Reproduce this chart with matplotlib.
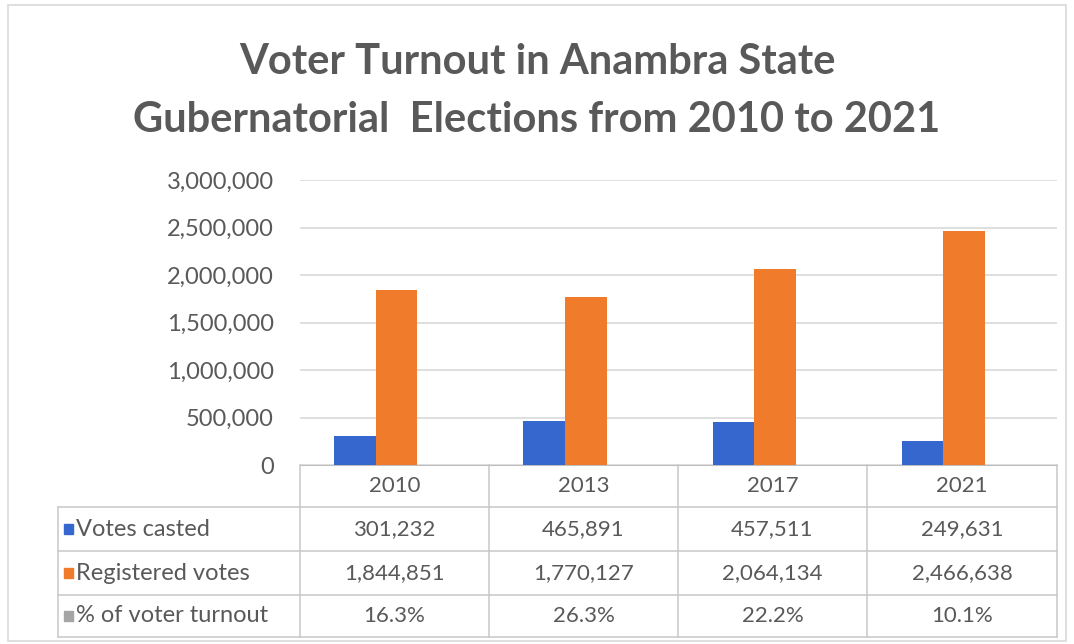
import numpy as np
import matplotlib.pyplot as plt
from matplotlib.patches import Rectangle
from matplotlib.lines import Line2D

years = ['2010', '2013', '2017', '2021']
votes_casted = [301232, 465891, 457511, 249631]
registered = [1844851, 1770127, 2064134, 2466638]
turnout = ['16.3%', '26.3%', '22.2%', '10.1%']
row_names = ['Votes casted', 'Registered votes', '% of voter turnout']
row_colors = ['#3567CF', '#F07B2A', '#A5A5A5']
yticks = [0, 500000, 1000000, 1500000, 2000000, 2500000, 3000000]

W, H = 1074, 644
txt = '#595959'
plt.rcParams['font.family'] = ['Lato', 'DejaVu Sans']

fig = plt.figure(figsize=(W / 100, H / 100), dpi=100)


def fx(px):
    return px / W


def fy(py):
    return 1 - py / H


# outer frame
fig.add_artist(Rectangle((fx(8), fy(641)), fx(1058), 636 / H, transform=fig.transFigure,
                         fill=False, edgecolor='#D9D9D9', lw=1.2))

fig.text(0.5, fy(62), 'Voter Turnout in Anambra State', ha='center', va='center',
         fontsize=30, fontweight='bold', color=txt)
fig.text(0.5, fy(120), 'Gubernatorial  Elections from 2010 to 2021', ha='center', va='center',
         fontsize=30, fontweight='bold', color=txt)

ax = fig.add_axes([fx(300), fy(465), fx(1057 - 300), (465 - 180) / H])
x = np.arange(len(years))
bw = 0.22
off = -0.1
ax.bar(x + off - bw / 2, votes_casted, bw, color=row_colors[0], zorder=3)
ax.bar(x + off + bw / 2, registered, bw, color=row_colors[1], zorder=3)
ax.set_xlim(-0.5, len(years) - 0.5)
ax.set_ylim(0, 3000000)
ax.set_yticks(yticks)
ax.set_yticklabels([f'{v:,}' for v in yticks])
ax.tick_params(axis='y', length=0, pad=19, labelsize=17, labelcolor=txt)
ax.set_xticks([])
ax.grid(axis='y', color='#D9D9D9', lw=1.2, zorder=0)
for s in ['top', 'right', 'left']:
    ax.spines[s].set_visible(False)
ax.spines['bottom'].set_color('#BFBFBF')

# data table
col_edges = [300, 489, 678, 867, 1057]
row_edges = [465, 507, 551, 595, 637]
lc = '#C8C8C8'


def hline(x0, x1, y):
    fig.add_artist(Line2D([fx(x0), fx(x1)], [fy(y), fy(y)], color=lc, lw=1.1))


def vline(x, y0, y1):
    fig.add_artist(Line2D([fx(x), fx(x)], [fy(y0), fy(y1)], color=lc, lw=1.1))


for r in row_edges[1:]:
    hline(58, 1057, r)
vline(58, row_edges[1], row_edges[4])
for c in col_edges:
    vline(c, row_edges[0], row_edges[4])

cells = [[f'{v:,}' for v in votes_casted], [f'{v:,}' for v in registered], turnout]
for j, yr in enumerate(years):
    cx = (col_edges[j] + col_edges[j + 1]) / 2
    fig.text(fx(cx), fy((row_edges[0] + row_edges[1]) / 2), yr, ha='center', va='center',
             fontsize=16, color=txt)
    for i in range(3):
        cy = (row_edges[i + 1] + row_edges[i + 2]) / 2
        fig.text(fx(cx), fy(cy), cells[i][j], ha='center', va='center', fontsize=16, color=txt)

for i, name in enumerate(row_names):
    cy = (row_edges[i + 1] + row_edges[i + 2]) / 2
    fig.add_artist(Rectangle((fx(64), fy(cy + 5)), fx(9), 10 / H, transform=fig.transFigure,
                             color=row_colors[i]))
    fig.text(fx(76), fy(cy), name, ha='left', va='center', fontsize=17, color=txt)

fig.savefig('out.png', dpi=100, facecolor='white')
